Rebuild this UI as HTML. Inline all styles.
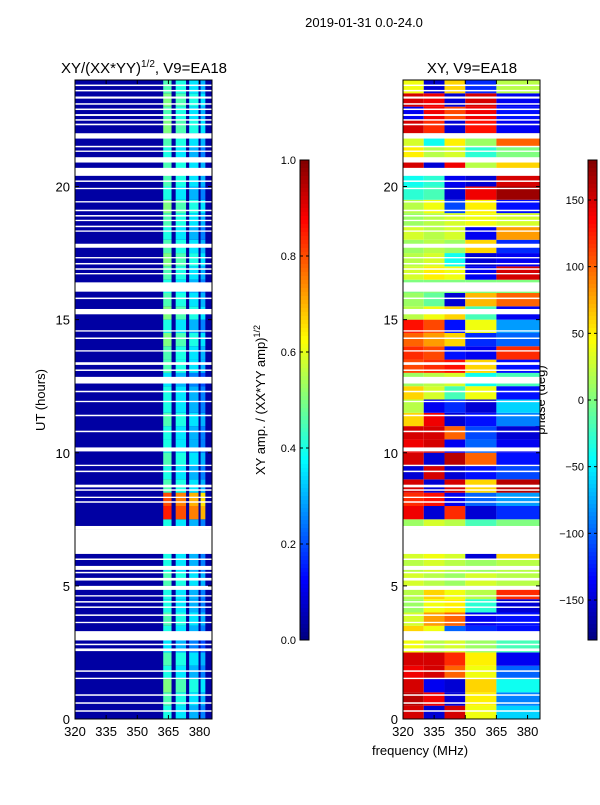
<!DOCTYPE html>
<html><head><meta charset="utf-8"><style>
body{margin:0;background:#fff;}
svg text{font-family:"Liberation Sans","DejaVu Sans",sans-serif;fill:#000;}
</style></head><body>
<svg id="c" width="600" height="800" viewBox="0 0 600 800" xmlns="http://www.w3.org/2000/svg">
<rect width="600" height="800" fill="#fff"/>
<text x="364" y="27" font-size="13" text-anchor="middle">2019-01-31 0.0-24.0</text>
<text x="144" y="73" font-size="15" text-anchor="middle">XY/(XX*YY)<tspan font-size="10" dy="-6">1/2</tspan><tspan dy="6">, V9=EA18</tspan></text>
<text x="472" y="73" font-size="15" text-anchor="middle">XY, V9=EA18</text>
<text transform="translate(45,400) rotate(-90)" font-size="13" text-anchor="middle">UT (hours)</text>
<text x="420" y="755" font-size="13" text-anchor="middle">frequency (MHz)</text>
<text transform="translate(265,400) rotate(-90)" font-size="13" text-anchor="middle">XY amp. / (XX*YY amp)<tspan font-size="9" dy="-5">1/2</tspan></text>
<text transform="translate(545,400) rotate(-90)" font-size="13" text-anchor="middle">phase (deg)</text>
<g id="left"></g>
<g id="right"></g>
<g id="axes"></g>
</svg>
<script>
const phaseRows=[
[150,-150,150,40,-60],[160,140,-150,50,-90],[150,-140,-150,60,-40],[140,150,100,40,-100],
[150,150,120,50,-140],[40,20,30,10,-20],[60,40,-100,-120,-130],[30,80,100,-140,-130],
[10,40,50,-30,-150],[20,60,40,20,120],[30,20,10,30,20],[20,30,20,10,20],
[30,40,30,-150,60],[20,30,20,10,20],[10,30,20,-20,0],[140,-150,120,-150,-120],
[120,130,-140,-100,-80],[150,-150,150,60,160],[-150,150,-150,-130,-110],[150,-150,160,100,-130],
[140,150,-140,-100,-140],[150,150,100,-110,-150],[60,140,-150,-130,-90],[20,-140,-120,-150,-60],
[60,30,-20,40,-130],[10,20,30,-40,-20],[110,120,130,60,-130],[120,110,-130,-140,120],
[100,80,60,-120,-100],[130,110,-130,40,-80],[20,40,60,-20,-140],[10,-10,-150,70,100],
[0,0,0,0,0],[30,50,40,-140,150],[20,30,-40,-150,-140],[10,20,10,60,-120],
[30,20,30,-140,80],[10,20,30,40,30],[20,40,-110,50,-130],[-30,-20,-150,140,170],
[-40,-30,-140,-150,150],[150,-150,140,20,60],[50,20,30,-30,0],[30,-40,50,10,100],
[150,120,-150,130,-140],[-140,140,110,140,-130],[150,140,-150,150,-140],[40,-150,60,-120,20]];
const segEdges=[320,330,340,350,365,386];
const bandAmp=[0.4,0.45,0.5,0.4,0.45,0.35,0.4,0.45,0.4,0.4,0.45,0.4,0.4,0.4,0.4,0.85,0.8,0.45,0.4,0.45,0.4,0.4,0.45,0.4,0.4,0.35,0.45,0.45,0.5,0.4,0.5,0.45,0.4,0.45,0.5,0.45,0.4,0.45,0.5,0.4,0.45,0.45,0.4,0.45,0.5,0.45,0.5,0.45];
const bandStart=[362.5,368.5,375,380.5];
const bandEnd=[366.5,373.5,379.5,382.8];
const gaps=[[23.3,23.38],[22.65,22.72],[22.3,22.36],[21.8,22.0],[21.3,21.35],[20.9,21.1],[20.4,20.7],[19.9,19.95],[19.4,19.45],[18.7,18.75],[18.3,18.35],[17.7,17.85],[17.3,17.35],[16.7,16.75],[16.05,16.4],[15.2,15.4],[14.55,14.6],[13.8,13.85],[13.3,13.4],[12.6,12.85],[11.9,11.95],[10.05,10.2],[9.5,9.55],[8.7,8.8],[8.3,8.35],[7.1,7.25],[6.2,7.1],[5.6,5.75],[5.2,5.3],[4.85,5.0],[4.6,4.65],[3.6,3.65],[2.95,3.3],[2.55,2.65],[1.5,1.55]];
const thinLines=[23.8,23.6,23.1,22.9,22.5,21.5,20.2,19.1,18.9,18.5,17.1,16.9,15.8,14.3,13.1,12.3,11.4,10.8,9.3,8.6,8.15,6.0,5.5,4.4,4.2,3.9,2.8,1.8,0.9,0.6,0.3];
const xTicks=[320,335,350,365,380];
const yTicks=[0,5,10,15,20];
const ampTicks=[0,0.2,0.4,0.6,0.8,1.0];
const phaseTicks=[-150,-100,-50,0,50,100,150];

const NS='http://www.w3.org/2000/svg';
const T=80,B=719,FMIN=320,FMAX=386;
const yOf=h=>B-h*(B-T)/24;
function xOf(x0,f){return x0+(f-FMIN)*(137/(FMAX-FMIN));}
function jet(v){v=Math.max(0,Math.min(1,v));
 const r=Math.max(0,Math.min(1,1.5-Math.abs(4*v-3))),g=Math.max(0,Math.min(1,1.5-Math.abs(4*v-2))),b=Math.max(0,Math.min(1,1.5-Math.abs(4*v-1)));
 return `rgb(${Math.round(r*255)},${Math.round(g*255)},${Math.round(b*255)})`;}
function rect(p,x,y,w,h,fill){const r=document.createElementNS(NS,'rect');r.setAttribute('x',x);r.setAttribute('y',y);r.setAttribute('width',w);r.setAttribute('height',h);r.setAttribute('fill',fill);p.appendChild(r);return r;}
function txt(p,x,y,s,anchor){const t=document.createElementNS(NS,'text');t.setAttribute('x',x);t.setAttribute('y',y);t.setAttribute('font-size','13');t.setAttribute('text-anchor',anchor);t.textContent=s;p.appendChild(t);return t;}
function line(p,x1,y1,x2,y2){const l=document.createElementNS(NS,'line');l.setAttribute('x1',x1);l.setAttribute('y1',y1);l.setAttribute('x2',x2);l.setAttribute('y2',y2);l.setAttribute('stroke','#000');l.setAttribute('stroke-width','1');p.appendChild(l);}

const L=document.getElementById('left'),R=document.getElementById('right'),A=document.getElementById('axes');
rect(L,75,T,137,B-T,jet(0.035));
bandAmp.forEach((a,i)=>{
 const y0=yOf((i+1)*0.5),y1=yOf(i*0.5);
 bandStart.forEach((s,j)=>{
  const c=rect(L,xOf(75,s),y0,xOf(75,bandEnd[j])-xOf(75,s),y1-y0,jet(a-j*0.05));
  
  
 });
});
phaseRows.forEach((row,i)=>{
 const y0=yOf((i+1)*0.5),y1=yOf(i*0.5);
 row.forEach((v,j)=>{
  const c=rect(R,xOf(403,segEdges[j]),y0,xOf(403,segEdges[j+1])-xOf(403,segEdges[j]),y1-y0,jet((v+180)/360));
  
  
 });
});
[[75,L],[403,R]].forEach(([x0,p])=>{
 gaps.forEach(g=>{const r=rect(p,x0,yOf(g[1]),137,yOf(g[0])-yOf(g[1]),'#fff');});
 thinLines.forEach(h=>{const r=rect(p,x0,yOf(h)-0.75,137,1.5,'#fff');});
});
[75,403].forEach(x0=>{
 const f=rect(A,x0,T,137,B-T,'none');f.setAttribute('stroke','#000');
 
 
 xTicks.forEach(v=>{const x=xOf(x0,v);line(A,x,B,x,B-4);line(A,x,T,x,T+4);
  const t=txt(A,x,B+17,String(v),'middle');
  
  });
 yTicks.forEach(v=>{const y=yOf(v);line(A,x0,y,x0+4,y);line(A,x0+137,y,x0+133,y);
  const t=txt(A,x0-5,y+5,String(v),'end');
  
  });
});
[[300,ampTicks,0,1],[588,phaseTicks,-180,180]].forEach(([x0,ticks,lo,hi])=>{
 for(let k=0;k<120;k++){rect(A,x0,160+k*4,9,4.3,jet(1-(k+0.5)/120));}
 const f=rect(A,x0,160,9,480,'none');f.setAttribute('stroke','#000');
 
 
 ticks.forEach(v=>{const y=640-(v-lo)/(hi-lo)*480;line(A,x0,y,x0+3,y);line(A,x0+9,y,x0+6,y);
  const lbl=lo===0?v.toFixed(1):String(v).replace('-','\u2212');
  const t=txt(A,x0-4,y+4,lbl,'end');t.setAttribute('font-size','11');
  
  });
});
</script>
</body></html>
